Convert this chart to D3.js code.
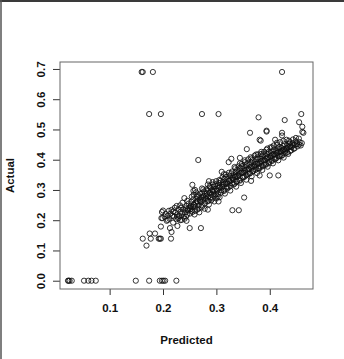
<!DOCTYPE html>
<html>
<head>
<meta charset="utf-8">
<script src="https://cdn.jsdelivr.net/npm/d3@7"></script>
<style>
  html, body { margin: 0; padding: 0; background: #fff; }
  #chart { width: 344px; height: 359px; }
  text { font-family: "Liberation Sans", Arial, Helvetica, sans-serif; font-weight: bold; fill: #111; }
</style>
</head>
<body>
<div id="chart"></div>
<script>
// axis ticks
const xTicks = [0.1, 0.2, 0.3, 0.4];
const yTicks = [0.0, 0.1, 0.2, 0.3, 0.4, 0.5, 0.6, 0.7];

// observations: predicted (x) and actual (y), same order, line by line
const predicted = [
  0.022, 0.023, 0.025, 0.029, 0.052, 0.060, 0.066, 0.074, 0.149, 0.174, 0.194, 0.198, 0.201, 0.204, 0.225,
  0.160, 0.162, 0.181, 0.423, 0.174, 0.196, 0.273, 0.304, 0.379, 0.428, 0.459,
  0.162, 0.175, 0.177, 0.185, 0.192, 0.194, 0.196, 0.169, 0.215, 0.196, 0.213, 0.216, 0.197,
  0.198, 0.200, 0.209, 0.216, 0.227, 0.235, 0.250, 0.271, 0.244, 0.227, 0.219, 0.232, 0.199,
  0.266, 0.357, 0.328, 0.323, 0.255, 0.352, 0.330, 0.342, 0.400, 0.416, 0.381, 0.363, 0.394, 0.383,
  0.423, 0.455, 0.463, 0.449, 0.436, 0.461, 0.455, 0.394, 0.461, 0.410, 0.381, 0.460, 0.423, 0.344,
  0.203, 0.207, 0.205, 0.209,
  0.212, 0.214, 0.217, 0.219, 0.211,
  0.221, 0.223, 0.225, 0.227, 0.229, 0.222,
  0.231, 0.233, 0.234, 0.236, 0.238, 0.232, 0.239,
  0.241, 0.242, 0.244, 0.245, 0.247, 0.248, 0.249, 0.243,
  0.251, 0.252, 0.253, 0.255, 0.256, 0.257, 0.258, 0.259, 0.254,
  0.261, 0.262, 0.263, 0.264, 0.265, 0.266, 0.267, 0.268, 0.269, 0.262,
  0.271, 0.272, 0.273, 0.274, 0.275, 0.276, 0.277, 0.278, 0.279, 0.273,
  0.281, 0.282, 0.283, 0.284, 0.285, 0.286, 0.287, 0.288, 0.289, 0.284,
  0.291, 0.292, 0.293, 0.294, 0.295, 0.296, 0.297, 0.298, 0.299, 0.293,
  0.301, 0.302, 0.303, 0.304, 0.305, 0.306, 0.307, 0.308, 0.309, 0.304,
  0.311, 0.312, 0.313, 0.314, 0.315, 0.316, 0.317, 0.318, 0.319, 0.314,
  0.321, 0.322, 0.323, 0.324, 0.325, 0.326, 0.327, 0.328, 0.329, 0.331,
  0.332, 0.333, 0.334, 0.335, 0.336, 0.337, 0.338, 0.339, 0.334, 0.338,
  0.341, 0.342, 0.343, 0.344, 0.345, 0.346, 0.347, 0.348, 0.349, 0.344,
  0.351, 0.352, 0.353, 0.354, 0.355, 0.356, 0.357, 0.358, 0.359, 0.353,
  0.361, 0.362, 0.363, 0.364, 0.365, 0.366, 0.367, 0.368, 0.369, 0.364,
  0.371, 0.372, 0.373, 0.374, 0.375, 0.376, 0.377, 0.378, 0.379, 0.374,
  0.381, 0.382, 0.383, 0.384, 0.385, 0.386, 0.387, 0.388, 0.389, 0.384,
  0.391, 0.392, 0.393, 0.394, 0.395, 0.396, 0.397, 0.398, 0.399, 0.394,
  0.401, 0.402, 0.403, 0.404, 0.405, 0.406, 0.407, 0.408, 0.409, 0.404,
  0.411, 0.412, 0.413, 0.414, 0.415, 0.416, 0.417, 0.418, 0.419, 0.414,
  0.421, 0.422, 0.423, 0.424, 0.425, 0.426, 0.427, 0.428, 0.429,
  0.431, 0.432, 0.433, 0.435, 0.436, 0.438, 0.439,
  0.441, 0.443, 0.445, 0.447, 0.449, 0.452, 0.456,
  0.240, 0.257, 0.284, 0.310, 0.286, 0.365, 0.260, 0.300
];
const actual = [
  0.000, 0.000, 0.000, 0.000, 0.000, 0.000, 0.000, 0.000, 0.000, 0.000, 0.000, 0.000, 0.000, 0.000, 0.000,
  0.690, 0.690, 0.690, 0.690, 0.551, 0.551, 0.551, 0.551, 0.540, 0.531, 0.551,
  0.139, 0.156, 0.139, 0.156, 0.139, 0.139, 0.139, 0.116, 0.139, 0.179, 0.174, 0.161, 0.207,
  0.227, 0.232, 0.201, 0.234, 0.181, 0.201, 0.174, 0.174, 0.198, 0.212, 0.192, 0.200, 0.207,
  0.399, 0.435, 0.403, 0.392, 0.317, 0.275, 0.233, 0.233, 0.348, 0.348, 0.348, 0.489, 0.493, 0.463,
  0.489, 0.450, 0.489, 0.472, 0.463, 0.509, 0.524, 0.496, 0.492, 0.466, 0.466, 0.455, 0.480, 0.406,
  0.212, 0.198, 0.221, 0.215,
  0.205, 0.222, 0.214, 0.229, 0.231,
  0.212, 0.226, 0.203, 0.219, 0.236, 0.241,
  0.214, 0.228, 0.241, 0.222, 0.235, 0.249, 0.212,
  0.226, 0.239, 0.247, 0.218, 0.232, 0.255, 0.241, 0.212,
  0.236, 0.248, 0.261, 0.227, 0.244, 0.269, 0.252, 0.219, 0.278,
  0.244, 0.258, 0.271, 0.235, 0.262, 0.283, 0.249, 0.226, 0.267, 0.292,
  0.259, 0.276, 0.288, 0.248, 0.267, 0.281, 0.295, 0.238, 0.272, 0.305,
  0.271, 0.289, 0.262, 0.299, 0.279, 0.252, 0.291, 0.308, 0.276, 0.318,
  0.284, 0.301, 0.272, 0.293, 0.311, 0.262, 0.298, 0.319, 0.286, 0.326,
  0.297, 0.314, 0.286, 0.306, 0.323, 0.276, 0.309, 0.331, 0.299, 0.262,
  0.309, 0.326, 0.298, 0.318, 0.336, 0.288, 0.321, 0.343, 0.311, 0.352,
  0.321, 0.337, 0.309, 0.331, 0.347, 0.298, 0.333, 0.355, 0.322, 0.341,
  0.334, 0.349, 0.321, 0.343, 0.359, 0.311, 0.346, 0.367, 0.376, 0.329,
  0.346, 0.361, 0.333, 0.355, 0.371, 0.323, 0.358, 0.379, 0.341, 0.388,
  0.358, 0.372, 0.344, 0.366, 0.381, 0.334, 0.368, 0.389, 0.352, 0.398,
  0.369, 0.383, 0.356, 0.376, 0.391, 0.345, 0.379, 0.399, 0.363, 0.408,
  0.378, 0.392, 0.366, 0.386, 0.401, 0.356, 0.389, 0.408, 0.372, 0.417,
  0.389, 0.403, 0.377, 0.396, 0.411, 0.366, 0.399, 0.418, 0.383, 0.426,
  0.398, 0.412, 0.386, 0.405, 0.419, 0.377, 0.409, 0.426, 0.393, 0.433,
  0.408, 0.421, 0.397, 0.415, 0.428, 0.388, 0.418, 0.434, 0.403, 0.441,
  0.417, 0.429, 0.406, 0.424, 0.437, 0.398, 0.427, 0.442, 0.412, 0.449,
  0.426, 0.438, 0.415, 0.432, 0.445, 0.407, 0.435, 0.451, 0.421,
  0.434, 0.446, 0.424, 0.441, 0.453, 0.429, 0.447,
  0.442, 0.455, 0.436, 0.449, 0.461, 0.444, 0.458,
  0.273, 0.297, 0.235, 0.360, 0.329, 0.330, 0.300, 0.272
];

// second batch of band observations (wider spread around the trend)
const predictedWide = [
  0.2255, 0.2285, 0.2365, 0.2405, 0.2455, 0.2505, 0.2535, 0.2575, 0.2605, 0.2635,
  0.2665, 0.2695, 0.2725, 0.2755, 0.2785, 0.2815, 0.2845, 0.2875, 0.2905, 0.2935,
  0.2965, 0.2995, 0.3025, 0.3055, 0.3085, 0.3115, 0.3145, 0.3175, 0.3205, 0.3235,
  0.3265, 0.3295, 0.3325, 0.3355, 0.3385, 0.3415, 0.3445, 0.3475, 0.3505, 0.3535,
  0.3565, 0.3595, 0.3625, 0.3655, 0.3685, 0.3715, 0.3745, 0.3775, 0.3805, 0.3835,
  0.3865, 0.3895, 0.3925, 0.3955, 0.3985, 0.4015, 0.4045, 0.4075, 0.4105, 0.4135,
  0.4165, 0.4195, 0.4225, 0.4255, 0.4285, 0.4315, 0.4345, 0.4375, 0.4405, 0.4435,
  0.4465, 0.4505, 0.4545, 0.4580
];
const actualWide = [
  0.247, 0.206, 0.258, 0.205, 0.264, 0.222, 0.231, 0.284, 0.231, 0.279,
  0.238, 0.288, 0.243, 0.302, 0.256, 0.302, 0.264, 0.312, 0.266, 0.318,
  0.281, 0.329, 0.278, 0.333, 0.291, 0.342, 0.297, 0.351, 0.305, 0.357,
  0.313, 0.361, 0.318, 0.372, 0.327, 0.378, 0.331, 0.386, 0.342, 0.392,
  0.349, 0.401, 0.354, 0.404, 0.362, 0.413, 0.368, 0.418, 0.371, 0.419,
  0.378, 0.426, 0.383, 0.437, 0.388, 0.441, 0.396, 0.447, 0.402, 0.456,
  0.411, 0.458, 0.413, 0.462, 0.427, 0.466, 0.419, 0.458, 0.431, 0.467,
  0.438, 0.452, 0.470, 0.447
];

// third batch, close to the trend (the dark core)
const predictedCore = [
  0.2455, 0.2515, 0.2575, 0.2635, 0.2695, 0.2755, 0.2815, 0.2875, 0.2935, 0.2995,
  0.3055, 0.3115, 0.3175, 0.3235, 0.3295, 0.3355, 0.3415, 0.3475, 0.3535, 0.3595,
  0.3655, 0.3715, 0.3775, 0.3835, 0.3895, 0.3955, 0.4015, 0.4075, 0.4135, 0.4195,
  0.4255, 0.4315, 0.4375, 0.4435
];
const actualCore = [
  0.236, 0.245, 0.251, 0.262, 0.263, 0.277, 0.281, 0.289, 0.297, 0.304,
  0.311, 0.318, 0.324, 0.329, 0.339, 0.345, 0.351, 0.357, 0.362, 0.369,
  0.373, 0.381, 0.386, 0.394, 0.398, 0.404, 0.412, 0.416, 0.422, 0.428,
  0.431, 0.438, 0.442, 0.448
];

const W = 344, H = 359;
const plot = { left: 60, right: 313, top: 62, bottom: 289 };

const svg = d3.select('#chart')
  .append('svg')
  .attr('width', W)
  .attr('height', H);

// outer frame (only top and left edges are visible in the original)
svg.append('line').attr('x1', 0).attr('x2', W).attr('y1', 1).attr('y2', 1)
  .attr('stroke', '#3a3a3a').attr('stroke-width', 2);
svg.append('line').attr('x1', 1).attr('x2', 1).attr('y1', 0).attr('y2', H)
  .attr('stroke', '#555').attr('stroke-width', 1.5);

const x = d3.scaleLinear()
  .domain([0.007, 0.481])
  .range([plot.left, plot.right]);

const y = d3.scaleLinear()
  .domain([-0.0274, 0.723])
  .range([plot.bottom, plot.top]);

// X axis (R style: no separate axis line, ticks hang from the box)
const xAxis = svg.append('g')
  .attr('transform', `translate(0,${plot.bottom})`)
  .call(d3.axisBottom(x).tickValues(xTicks).tickSize(6).tickPadding(9).tickFormat(d3.format('.1f')));
xAxis.select('.domain').remove();
xAxis.selectAll('line').attr('stroke', '#333');
xAxis.selectAll('text').attr('font-size', '11.5px').attr('fill', '#111');

// Y axis, labels rotated like R's default las = 0
const yAxis = svg.append('g')
  .attr('transform', `translate(${plot.left},0)`)
  .call(d3.axisLeft(y).tickValues(yTicks).tickSize(7).tickFormat(d3.format('.1f')));
yAxis.select('.domain').remove();
yAxis.selectAll('line').attr('stroke', '#333');
yAxis.selectAll('text')
  .attr('font-size', '11.5px')
  .attr('fill', '#111')
  .attr('x', null)
  .attr('text-anchor', 'middle')
  .attr('transform', 'translate(-19,0) rotate(-90)')
  .attr('dy', '0.35em');

// box
svg.append('rect')
  .attr('x', plot.left)
  .attr('y', plot.top)
  .attr('width', plot.right - plot.left)
  .attr('height', plot.bottom - plot.top)
  .attr('fill', 'none')
  .attr('stroke', '#666')
  .attr('stroke-width', 1);

// points
const points = d3.zip(predicted, actual)
  .concat(d3.zip(predictedWide, actualWide))
  .concat(d3.zip(predictedCore, actualCore));

svg.append('g')
  .selectAll('circle')
  .data(points)
  .join('circle')
  .attr('cx', d => x(d[0]))
  .attr('cy', d => y(d[1]))
  .attr('r', 2.6)
  .attr('fill', 'none')
  .attr('stroke', '#111')
  .attr('stroke-width', 0.85);

// axis titles
svg.append('text')
  .attr('x', (plot.left + plot.right) / 2)
  .attr('y', 344)
  .attr('text-anchor', 'middle')
  .attr('font-size', '11.5px')
  .text('Predicted');

svg.append('text')
  .attr('transform', `translate(14,${(plot.top + plot.bottom) / 2}) rotate(-90)`)
  .attr('text-anchor', 'middle')
  .attr('font-size', '11.5px')
  .text('Actual');
</script>
</body>
</html>
